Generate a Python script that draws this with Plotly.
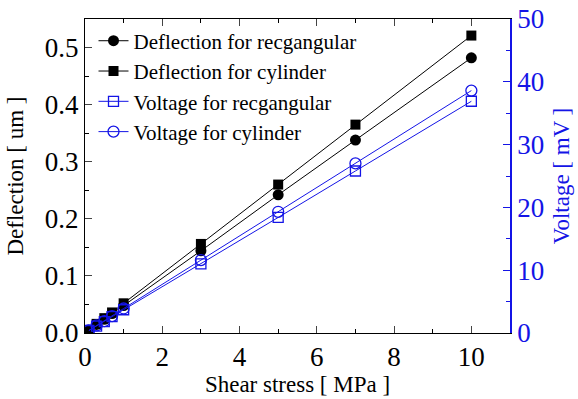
import plotly.graph_objects as go

stress = [0.1, 0.3, 0.5, 0.7, 1, 3, 5, 7, 10]
defl_rect = [0.005, 0.015, 0.024, 0.034, 0.048, 0.144, 0.242, 0.338, 0.482]
defl_cyl = [0.005, 0.016, 0.026, 0.036, 0.052, 0.156, 0.260, 0.365, 0.521]
volt_rect = [0.4, 1.1, 1.8, 2.6, 3.7, 11.0, 18.4, 25.8, 36.9]
volt_cyl = [0.4, 1.2, 1.9, 2.7, 3.9, 11.6, 19.3, 27.0, 38.6]

FONT = "Liberation Serif"
BLUE = "#1414e6"

fig = go.Figure()
fig.add_trace(go.Scatter(x=stress, y=defl_rect, mode="lines+markers",
                         name="Deflection for recgangular",
                         line=dict(color="black", width=1),
                         marker=dict(symbol="circle", size=11, color="black")))
fig.add_trace(go.Scatter(x=stress, y=defl_cyl, mode="lines+markers",
                         name="Deflection for cylinder",
                         line=dict(color="black", width=1),
                         marker=dict(symbol="square", size=10, color="black")))
fig.add_trace(go.Scatter(x=stress, y=volt_rect, mode="lines+markers",
                         name="Voltage for recgangular", yaxis="y2",
                         line=dict(color=BLUE, width=1),
                         marker=dict(symbol="square-open", size=10, color=BLUE,
                                     line=dict(width=1.3))))
fig.add_trace(go.Scatter(x=stress, y=volt_cyl, mode="lines+markers",
                         name="Voltage for cylinder", yaxis="y2",
                         line=dict(color=BLUE, width=1),
                         marker=dict(symbol="circle-open", size=11, color=BLUE,
                                     line=dict(width=1.3))))

fig.update_layout(
    width=578, height=399,
    margin=dict(l=85, r=68, t=19, b=66, autoexpand=False),
    paper_bgcolor="white", plot_bgcolor="white",
    font=dict(family=FONT, color="black", size=21),
    showlegend=True,
    legend=dict(x=0.02, y=0.995, xanchor="left", yanchor="top",
                bgcolor="rgba(0,0,0,0)", font=dict(size=21),
                tracegroupgap=0, itemwidth=30),
    xaxis=dict(range=[0, 11], dtick=2, tick0=0, ticks="inside", ticklen=7,
               showline=True, linecolor="black", linewidth=1, mirror="ticks",
               showgrid=False, zeroline=False, automargin=False,
               tickfont=dict(size=27),
               minor=dict(dtick=1, ticks="inside", ticklen=4, tickcolor="black"),
               title=dict(text="Shear stress [ MPa ]", font=dict(size=23),
                          standoff=0)),
    yaxis=dict(range=[0, 0.55], dtick=0.1, tickformat=".1f", ticks="inside", ticklen=7,
               showline=True, linecolor="black", linewidth=1,
               showgrid=False, zeroline=False, automargin=False,
               tickfont=dict(size=27),
               minor=dict(dtick=0.05, ticks="inside", ticklen=4, tickcolor="black"),
               title=dict(text="Deflection [ um ]", font=dict(size=23),
                          standoff=14)),
    yaxis2=dict(range=[0, 50], dtick=10, overlaying="y", side="right",
                ticks="inside", ticklen=7, tickcolor=BLUE,
                showline=True, linecolor=BLUE, linewidth=1.5,
                showgrid=False, zeroline=False, automargin=False,
                tickfont=dict(size=27, color=BLUE),
                minor=dict(dtick=5, ticks="inside", ticklen=4, tickcolor=BLUE),
                title=dict(text="Voltage [ mV ]", font=dict(size=23, color=BLUE),
                           standoff=10)),
)

fig.write_html("out.html")
